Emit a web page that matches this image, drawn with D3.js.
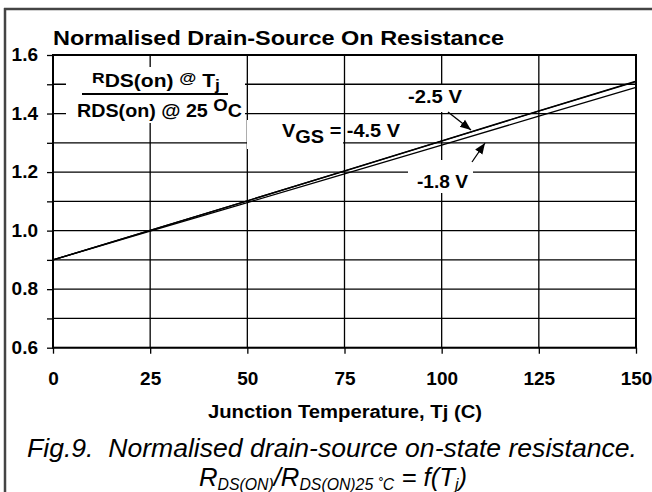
<!DOCTYPE html>
<html>
<head>
<meta charset="utf-8">
<script src="https://cdn.jsdelivr.net/npm/d3@7"></script>
<style>
  body { margin: 0; background: #fff; }
  svg { display: block; font-family: "Liberation Sans", Arial, sans-serif; }
  text { white-space: pre; }
</style>
</head>
<body>
<div id="chart"></div>
<script>
// data
var temps   = [0, 25, 50, 75, 100, 125, 150];           // Tj (C)
var vgs45   = [0.9, 1.001, 1.102, 1.204, 1.307, 1.409, 1.511];
var vgs25   = [0.9, 1.001, 1.102, 1.203, 1.306, 1.408, 1.509];
var vgs18   = [0.9, 0.998, 1.096, 1.194, 1.292, 1.391, 1.489];
var xTicks  = [0, 25, 50, 75, 100, 125, 150];
var yTicks  = [0.6, 0.7, 0.8, 0.9, 1.0, 1.1, 1.2, 1.3, 1.4, 1.5, 1.6];
var yLabels = [0.6, 0.8, 1.0, 1.2, 1.4, 1.6];

var W = 652, H = 492;
var pLeft = 53, pRight = 636, pTop = 55, pBottom = 347.7;

var svg = d3.select("#chart").append("svg")
    .attr("width", W).attr("height", H);

var x = d3.scaleLinear().domain([0, 150]).range([pLeft, pRight]);
var y = d3.scaleLinear().domain([0.6, 1.6]).range([pBottom, pTop]);

// outer frame (left + top only)
svg.append("line").attr("x1", 5).attr("x2", 5).attr("y1", 8).attr("y2", H)
    .attr("stroke", "#444").attr("stroke-width", 2.5);
svg.append("line").attr("x1", 4).attr("x2", W).attr("y1", 9).attr("y2", 9)
    .attr("stroke", "#444").attr("stroke-width", 2.5);

// gridlines
svg.append("g").selectAll("line").data(yTicks).join("line")
    .attr("x1", pLeft).attr("x2", pRight)
    .attr("y1", d => y(d)).attr("y2", d => y(d))
    .attr("stroke", "#000").attr("stroke-width", 1.3);
svg.append("g").selectAll("line").data(xTicks).join("line")
    .attr("x1", d => x(d)).attr("x2", d => x(d))
    .attr("y1", pTop).attr("y2", pBottom)
    .attr("stroke", "#000").attr("stroke-width", 1.3);

// plot border, a bit heavier
svg.append("rect").attr("x", pLeft).attr("y", pTop)
    .attr("width", pRight - pLeft).attr("height", pBottom - pTop)
    .attr("fill", "none").attr("stroke", "#000").attr("stroke-width", 2);

// axes (ticks stick out, labels only every 0.2)
var yAxis = svg.append("g").attr("transform", "translate(" + pLeft + ",0)")
    .call(d3.axisLeft(y).tickValues(yTicks).tickSize(6).tickSizeOuter(0)
        .tickFormat(d => yLabels.some(v => Math.abs(v - d) < 1e-9) ? d3.format(".1f")(d) : ""));
var xAxis = svg.append("g").attr("transform", "translate(0," + pBottom + ")")
    .call(d3.axisBottom(x).tickValues(xTicks).tickSize(6).tickSizeOuter(0));

[yAxis, xAxis].forEach(function (g) {
  g.select(".domain").remove();
  g.selectAll(".tick line").attr("stroke", "#000").attr("stroke-width", 1.3);
  g.selectAll(".tick text").attr("fill", "#000")
    .style("font-size", "19px").style("font-weight", "bold")
    .style("font-family", "'Liberation Sans', Arial, sans-serif");
});
yAxis.selectAll(".tick text").attr("x", -15).attr("dy", "0.3em");
xAxis.selectAll(".tick text").attr("y", 24).attr("dy", "0.71em");

// white boxes behind the labels
var boxes = [
  [66, 67, 179, 56],
  [247, 120, 96, 29],
  [402, 85, 64, 27],
  [408, 160, 65, 33]
];
svg.append("g").selectAll("rect").data(boxes).join("rect")
    .attr("x", d => d[0]).attr("y", d => d[1])
    .attr("width", d => d[2]).attr("height", d => d[3])
    .attr("fill", "#fff");

// curves
var line = d3.line().x((d, i) => x(temps[i])).y(d => y(d));
[vgs45, vgs25, vgs18].forEach(function (s) {
  svg.append("path").datum(s).attr("d", line)
    .attr("fill", "none").attr("stroke", "#000").attr("stroke-width", 1.3);
});

// title
svg.append("text").attr("x", 53).attr("y", 45)
    .style("font-size", "21px").style("font-weight", "bold")
    .attr("textLength", 451).attr("lengthAdjust", "spacingAndGlyphs")
    .text("Normalised Drain-Source On Resistance");

// fraction label
var num = svg.append("text").attr("x", 92).attr("y", 87)
    .style("font-weight", "bold").style("font-size", "18px")
    .attr("textLength", 128).attr("lengthAdjust", "spacingAndGlyphs");
num.append("tspan").attr("dy", -4).style("font-size", "15px").text("R");
num.append("tspan").attr("dy", 4).text("DS(on) ");
num.append("tspan").attr("dy", -4).style("font-size", "15px").text("@");
num.append("tspan").attr("dy", 4).text(" T");
num.append("tspan").attr("dy", 3).style("font-size", "15px").text("j");
svg.append("line").attr("x1", 82).attr("x2", 228).attr("y1", 94).attr("y2", 94)
    .attr("stroke", "#000").attr("stroke-width", 2);
var den = svg.append("text").attr("x", 77).attr("y", 117)
    .style("font-weight", "bold").style("font-size", "18px")
    .attr("textLength", 165).attr("lengthAdjust", "spacingAndGlyphs");
den.append("tspan").text("RDS(on) @ 25 ");
den.append("tspan").attr("dy", -6).style("font-size", "17px").text("O");
den.append("tspan").attr("dy", 6).text("C");

// VGS label
var vg = svg.append("text").attr("x", 282).attr("y", 137)
    .style("font-weight", "bold").style("font-size", "18px")
    .attr("textLength", 118).attr("lengthAdjust", "spacingAndGlyphs");
vg.append("tspan").text("V");
vg.append("tspan").attr("dy", 6).text("GS");
vg.append("tspan").attr("dy", -6).text(" = -4.5 V");

svg.append("text").attr("x", 408).attr("y", 103)
    .style("font-weight", "bold").style("font-size", "18px")
    .attr("textLength", 54).attr("lengthAdjust", "spacingAndGlyphs").text("-2.5 V");
svg.append("text").attr("x", 417).attr("y", 188)
    .style("font-weight", "bold").style("font-size", "18px")
    .attr("textLength", 51).attr("lengthAdjust", "spacingAndGlyphs").text("-1.8 V");

// arrows
svg.append("defs").append("marker").attr("id", "ah")
    .attr("viewBox", "0 0 10 10").attr("refX", 10).attr("refY", 5)
    .attr("markerWidth", 11).attr("markerHeight", 11)
    .attr("markerUnits", "userSpaceOnUse").attr("orient", "auto")
    .append("path").attr("d", "M0,1 L10,5 L0,9 z").attr("fill", "#000");
[[448, 112, 471, 130], [472, 162, 485, 143]].forEach(function (a) {
  svg.append("line").attr("x1", a[0]).attr("y1", a[1]).attr("x2", a[2]).attr("y2", a[3])
    .attr("stroke", "#000").attr("stroke-width", 1.3).attr("marker-end", "url(#ah)");
});

// axis title
svg.append("text").attr("x", 345).attr("y", 418).attr("text-anchor", "middle")
    .style("font-weight", "bold").style("font-size", "17.5px")
    .attr("textLength", 274).attr("lengthAdjust", "spacingAndGlyphs")
    .text("Junction Temperature, Tj (C)");

// caption
svg.append("text").attr("x", 332).attr("y", 457).attr("text-anchor", "middle")
    .style("font-style", "italic").style("font-size", "25.5px")
    .attr("textLength", 610).attr("lengthAdjust", "spacingAndGlyphs")
    .text("Fig.9.  Normalised drain-source on-state resistance.");
var cap = svg.append("text").attr("x", 333).attr("y", 486).attr("text-anchor", "middle")
    .style("font-style", "italic").style("font-size", "26px")
    .attr("textLength", 268).attr("lengthAdjust", "spacingAndGlyphs");
cap.append("tspan").text("R");
cap.append("tspan").attr("dy", 4).style("font-size", "16px").text("DS(ON)");
cap.append("tspan").attr("dy", -4).text("/R");
cap.append("tspan").attr("dy", 4).style("font-size", "16px").text("DS(ON)25 \u02daC");
cap.append("tspan").attr("dy", -4).text(" = f(T");
cap.append("tspan").attr("dy", 4).style("font-size", "16px").text("j");
cap.append("tspan").attr("dy", -4).text(")");
</script>
</body>
</html>
